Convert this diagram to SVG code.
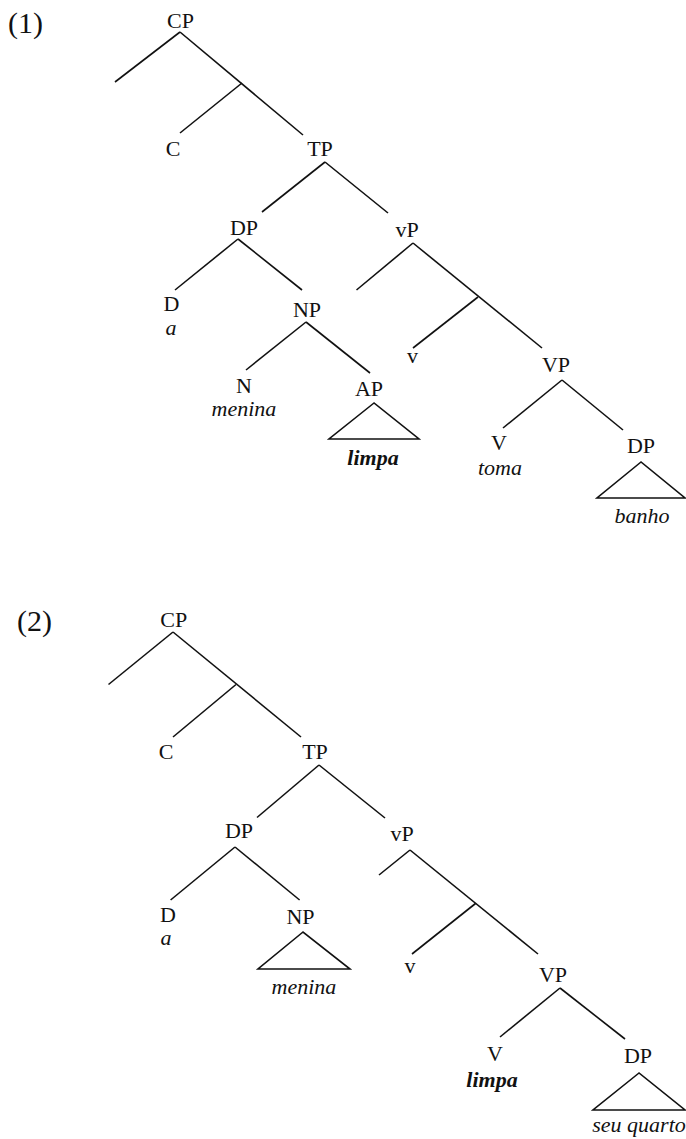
<svg xmlns="http://www.w3.org/2000/svg" width="686" height="1139" viewBox="0 0 686 1139">
<style>
text{font-family:"Liberation Serif","Times New Roman",serif;font-size:22px;fill:#111;text-anchor:middle}
.num{font-size:30px;text-anchor:start}
.it{font-style:italic}
.bi{font-style:italic;font-weight:bold}
line,polygon{stroke:#111;stroke-width:1.6;fill:none}
</style>
<rect width="686" height="1139" fill="#fff"/>
<g id="connectors">
<line x1="180" y1="32" x2="115" y2="82"/>
<line x1="180" y1="32" x2="303" y2="135"/>
<line x1="242" y1="83" x2="180" y2="133"/>
<line x1="325" y1="162" x2="262" y2="212"/>
<line x1="325" y1="162" x2="388" y2="213"/>
<line x1="238" y1="239" x2="175" y2="290"/>
<line x1="238" y1="239" x2="302" y2="290"/>
<line x1="413" y1="243" x2="356.5" y2="290"/>
<line x1="413" y1="243" x2="542" y2="348"/>
<line x1="478" y1="297" x2="413" y2="348"/>
<line x1="306" y1="322" x2="246" y2="370"/>
<line x1="306" y1="322" x2="370" y2="373"/>
<line x1="562" y1="380" x2="503" y2="428"/>
<line x1="562" y1="380" x2="623" y2="430"/>
<line x1="173" y1="632" x2="108.5" y2="684.5"/>
<line x1="173" y1="632" x2="301" y2="737"/>
<line x1="236" y1="684.5" x2="173" y2="737"/>
<line x1="319" y1="765" x2="257" y2="817.5"/>
<line x1="319" y1="765" x2="385" y2="818"/>
<line x1="235" y1="847" x2="170.6" y2="900"/>
<line x1="235" y1="847" x2="299.6" y2="900"/>
<line x1="410" y1="850" x2="379" y2="875"/>
<line x1="410" y1="850" x2="538" y2="954"/>
<line x1="475.5" y1="903.5" x2="412" y2="954"/>
<line x1="560" y1="988" x2="500" y2="1037"/>
<line x1="560" y1="988" x2="625" y2="1039"/>
</g>
<g id="ex1-label"><text class="num" x="8" y="33">(1)</text></g>
<g id="t1-CP"><text x="180.5" y="28">CP</text></g>
<g id="t1-C"><text x="173" y="156">C</text></g>
<g id="t1-TP"><text x="320" y="156">TP</text></g>
<g id="t1-DP"><text x="244" y="235">DP</text></g>
<g id="t1-vP"><text x="407" y="237">vP</text></g>
<g id="t1-D"><text x="171.5" y="311">D</text><text class="it" x="171" y="335">a</text></g>
<g id="t1-NP"><text x="307" y="317">NP</text></g>
<g id="t1-v"><text x="412.5" y="363">v</text></g>
<g id="t1-VP"><text x="556" y="372">VP</text></g>
<g id="t1-N"><text x="244" y="393">N</text><text class="it" x="244" y="416">menina</text></g>
<g id="t1-AP"><text x="369" y="396">AP</text><polygon points="374,403 329,439 419,439"/><text class="bi" x="373" y="465">limpa</text></g>
<g id="t1-V"><text x="499" y="450">V</text><text class="it" x="500" y="475">toma</text></g>
<g id="t1-DP2"><text x="641" y="453">DP</text><polygon points="641,462 597,498 685,498"/><text class="it" x="642" y="523">banho</text></g>
<g id="ex2-label"><text class="num" x="17" y="631">(2)</text></g>
<g id="t2-CP"><text x="173.7" y="626.5">CP</text></g>
<g id="t2-C"><text x="166" y="759">C</text></g>
<g id="t2-TP"><text x="315" y="759">TP</text></g>
<g id="t2-DP"><text x="239" y="838">DP</text></g>
<g id="t2-vP"><text x="402" y="841">vP</text></g>
<g id="t2-D"><text x="168" y="922">D</text><text class="it" x="166" y="945">a</text></g>
<g id="t2-NP"><text x="300.5" y="924">NP</text><polygon points="303,932 258,969 350,969"/><text class="it" x="304" y="994">menina</text></g>
<g id="t2-v"><text x="410" y="973">v</text></g>
<g id="t2-VP"><text x="553" y="982">VP</text></g>
<g id="t2-V"><text x="495" y="1061">V</text><text class="bi" x="492" y="1087">limpa</text></g>
<g id="t2-DP2"><text x="638" y="1063">DP</text><polygon points="639,1073 593,1110 685,1110"/><text class="it" x="639" y="1132">seu quarto</text></g>
</svg>
